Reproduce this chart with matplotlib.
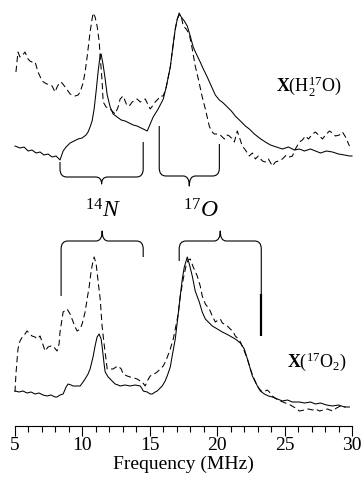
import matplotlib
matplotlib.use("Agg")
import matplotlib.pyplot as plt
from matplotlib.path import Path
from matplotlib.patches import PathPatch
from matplotlib.ticker import MultipleLocator

plt.rcParams['font.family'] = ['Liberation Serif', 'DejaVu Serif']
plt.rcParams['mathtext.fontset'] = 'custom'
plt.rcParams['mathtext.rm'] = 'Liberation Serif'
plt.rcParams['mathtext.it'] = 'Liberation Serif:italic'
plt.rcParams['mathtext.bf'] = 'Liberation Serif:bold'

# ---------------- data (frequency in MHz, intensity in arbitrary units) -------------
top_solid_f = [5.00, 5.37, 5.67, 5.97, 6.26, 6.56, 6.86, 7.15, 7.45, 7.75, 8.05, 8.34, 8.57, 8.79,
               9.09, 9.38, 9.68, 9.98, 10.27, 10.42, 10.57, 10.72, 10.87, 11.02, 11.17, 11.32,
               11.39, 11.54, 11.69, 11.84, 12.06, 12.28, 12.58, 12.88, 13.17, 13.47, 13.77,
               14.06, 14.36, 14.66, 14.81, 15.03, 15.25, 15.62, 16.00, 16.22, 16.52, 16.74,
               16.89, 17.04, 17.18, 17.33, 17.56, 17.78, 18.00, 18.22, 18.45, 18.74, 18.97,
               19.26, 19.56, 19.86, 20.16, 20.45, 20.75, 21.05, 21.34, 21.72, 22.09, 22.38,
               22.76, 23.13, 23.57, 23.95, 24.39, 24.84, 25.28, 25.73, 26.10, 26.47, 26.92,
               27.29, 27.66, 28.11, 28.55, 29.00, 29.44, 29.81, 30.00]
top_solid_y = [280, 278, 279, 275, 276, 273, 274, 271, 272, 269, 270, 266, 275, 279,
               283, 285, 287, 288, 291, 294, 299, 305, 317, 335, 355, 371,
               372, 361, 347, 331, 319, 312, 309, 306, 305, 303, 301,
               300, 298, 296, 295, 302, 309, 317, 327, 339, 359, 382,
               397, 407, 413, 409, 405, 400, 390, 379, 372, 364, 357,
               349, 340, 331, 326, 323, 319, 315, 310, 305, 300, 297,
               292, 288, 284, 281, 279, 277, 279, 276, 277, 275, 277,
               275, 273, 275, 274, 272, 271, 270, 270]

top_dash_f = [5.07, 5.22, 5.37, 5.52, 5.74, 5.97, 6.11, 6.26, 6.49, 6.71, 7.01, 7.23, 7.38,
              7.75, 7.97, 8.12, 8.34, 8.49, 8.72, 9.09, 9.46, 9.68, 9.83, 10.05, 10.20, 10.35,
              10.42, 10.57, 10.72, 10.79, 10.94, 11.09, 11.24, 11.32, 11.46, 11.54, 11.76,
              12.06, 12.28, 12.43, 12.65, 12.80, 13.02, 13.17, 13.32, 13.54, 13.69, 13.92,
              14.06, 14.29, 14.51, 14.66, 14.88, 15.03, 15.25, 15.40, 15.62, 15.77, 16.00,
              16.22, 16.52, 16.74, 16.89, 17.04, 17.18, 17.33, 17.48, 17.70, 17.93, 18.15,
              18.37, 18.60, 18.89, 19.12, 19.41, 19.56, 19.78, 20.16, 20.38, 20.53, 20.75,
              20.90, 21.12, 21.27, 21.49, 21.64, 21.86, 22.09, 22.38, 22.61, 22.83, 23.05,
              23.35, 23.57, 23.80, 24.09, 24.32, 24.54, 24.84, 25.13, 25.36, 25.58, 25.80,
              26.10, 26.32, 26.55, 26.77, 27.07, 27.29, 27.51, 27.81, 28.03, 28.33, 28.55,
              28.77, 29.07, 29.29, 29.52, 29.81]
top_dash_y = [354, 374, 369, 370, 374, 367, 365, 364, 364, 354, 345, 343, 342,
              340, 334, 339, 344, 343, 339, 332, 330, 331, 334, 343, 354, 369,
              377, 394, 407, 413, 409, 400, 385, 370, 345, 324, 319,
              317, 314, 312, 319, 327, 330, 325, 320, 321, 324, 326,
              327, 324, 326, 327, 321, 317, 321, 324, 327, 330, 330,
              339, 359, 382, 397, 407, 411, 410, 400, 397, 392, 377,
              360, 347, 329, 317, 300, 295, 292, 292, 289, 287, 291,
              290, 287, 284, 295, 289, 280, 276, 270, 273, 267, 270,
              265, 264, 267, 260, 264, 265, 267, 271, 269, 270, 277,
              284, 286, 290, 287, 292, 294, 291, 287, 291, 295, 293,
              290, 291, 294, 289, 280]

bot_solid_f = [5.00, 5.30, 5.59, 5.89, 6.19, 6.49, 6.78, 7.08, 7.38, 7.67, 7.97, 8.12, 8.34,
               8.57, 8.79, 8.94, 9.16, 9.31, 9.61, 9.83, 10.05, 10.20, 10.42, 10.57, 10.79,
               10.94, 11.09, 11.24, 11.39, 11.46, 11.61, 11.69, 11.91, 12.06, 12.28, 12.43,
               12.65, 12.80, 13.17, 13.54, 13.92, 14.29, 14.44, 14.51, 14.81, 15.03, 15.18,
               15.40, 15.55, 15.77, 15.92, 16.14, 16.29, 16.52, 16.66, 16.89, 17.04, 17.26,
               17.41, 17.56, 17.78, 17.93, 18.15, 18.37, 18.67, 18.89, 19.12, 19.34, 19.64,
               20.01, 20.38, 20.82, 21.34, 21.72, 22.01, 22.24, 22.46, 22.61, 22.83, 22.98,
               23.20, 23.50, 23.80, 24.09, 24.47, 24.84, 25.21, 25.58, 26.10, 26.47, 26.92,
               27.29, 27.66, 28.11, 28.55, 29.00, 29.44, 29.81]
bot_solid_y = [35, 34, 35, 33, 34, 32, 33, 31, 30, 31, 29, 29, 31,
               32, 39, 42, 41, 40, 40, 40, 44, 47, 52, 57, 69,
               80, 89, 92, 87, 80, 62, 54, 49, 47, 44, 42,
               41, 40, 41, 40, 41, 40, 37, 35, 34, 32, 32,
               34, 35, 38, 40, 45, 50, 59, 70, 87, 104, 130,
               147, 159, 169, 162, 150, 135, 124, 114, 107, 104, 100,
               97, 94, 91, 87, 83, 77, 67, 57, 50, 44, 40,
               35, 32, 30, 29, 27, 25, 26, 24, 24, 23, 24,
               22, 23, 21, 20, 21, 19, 19]

bot_dash_f = [5.00, 5.07, 5.22, 5.37, 5.59, 5.74, 5.89, 6.11, 6.26, 6.49, 6.63, 6.86, 7.01,
              7.23, 7.45, 7.67, 7.82, 8.12, 8.27, 8.34, 8.49, 8.57, 8.86, 9.09, 9.23, 9.46,
              9.61, 9.83, 9.98, 10.20, 10.35, 10.50, 10.65, 10.79, 10.87, 11.02, 11.17,
              11.32, 11.46, 11.61, 11.84, 12.06, 12.28, 12.50, 12.65, 12.88, 13.02, 13.32,
              13.54, 13.84, 14.06, 14.29, 14.44, 14.66, 14.81, 15.03, 15.33, 15.55, 15.77,
              16.00, 16.22, 16.52, 16.74, 16.89, 17.11, 17.26, 17.48, 17.70, 17.85, 18.00,
              18.22, 18.52, 18.74, 18.89, 19.12, 19.41, 19.64, 19.86, 20.08, 20.23, 20.38,
              20.53, 20.75, 20.97, 21.20, 21.34, 21.57, 21.72, 22.01, 22.24, 22.46, 22.68,
              22.91, 23.13, 23.35, 23.57, 23.72, 23.87, 24.09, 24.39, 24.69, 25.06, 25.43,
              25.80, 26.10, 26.47, 26.77, 27.07, 27.29, 27.59, 27.88, 28.18, 28.55, 28.85,
              29.15, 29.52]
bot_dash_y = [34, 52, 77, 85, 90, 92, 95, 92, 90, 89, 87, 90, 84,
              75, 79, 80, 80, 75, 82, 94, 107, 114, 117, 112, 107, 99,
              95, 97, 102, 114, 127, 139, 155, 165, 169, 162, 144,
              127, 100, 82, 57, 57, 57, 59, 60, 57, 52, 50,
              49, 48, 47, 45, 44, 40, 45, 50, 52, 54, 57,
              60, 66, 77, 87, 97, 112, 130, 147, 161, 166, 167,
              159, 150, 140, 130, 122, 117, 110, 104, 106, 107, 103,
              102, 100, 97, 94, 90, 87, 84, 75, 67, 57, 49,
              42, 37, 34, 35, 36, 34, 30, 27, 25, 23, 21,
              18, 15, 16, 17, 16, 17, 15, 16, 17, 15, 18,
              20, 19]

# braces: (left MHz, right MHz, horizontal level, tip level, left end level, right end level)
brace_top_N = (8.34, 14.51, 249, 242, 264, 284)
brace_top_O = (15.70, 20.16, 250, 240, 300, 282)
brace_bot_N = (8.42, 14.51, 185, 195, 130, 169)
brace_bot_O = (17.18, 23.27, 185, 195, 165, 90)
thick_seg = (23.27, 90, 132)

tick_major = [5, 10, 15, 20, 25, 30]

# ---------------- figure -------------------------------------------------------------
fig = plt.figure(figsize=(3.64, 4.85), dpi=100)
ax = fig.add_axes([15 / 364, 58 / 485, 337 / 364, 427 / 485])
ax.set_xlim(5, 30)
ax.set_ylim(0, 427)

lw = 0.75
dash = (0, (6, 3.5))
ax.plot(top_solid_f, top_solid_y, color='black', lw=lw, clip_on=False)
ax.plot(top_dash_f, top_dash_y, color='black', lw=lw, ls=dash, clip_on=False)
ax.plot(bot_solid_f, bot_solid_y, color='black', lw=lw, clip_on=False)
ax.plot(bot_dash_f, bot_dash_y, color='black', lw=lw, ls=dash, clip_on=False)


def brace(ax, spec, rx=0.5, ry=8.0, rt=0.45):
    x0, x1, yh, yt, yl, yr = spec
    xc = 0.5 * (x0 + x1)
    e = 1 if yl > yh else -1
    verts = [(x0, yl), (x0, yh + e * ry), (x0, yh), (x0 + rx, yh),
             (xc - rt, yh), (xc, yh), (xc, yt),
             (xc, yh), (xc + rt, yh),
             (x1 - rx, yh), (x1, yh), (x1, yh + e * ry), (x1, yr)]
    codes = [Path.MOVETO, Path.LINETO, Path.CURVE3, Path.CURVE3,
             Path.LINETO, Path.CURVE3, Path.CURVE3,
             Path.CURVE3, Path.CURVE3,
             Path.LINETO, Path.CURVE3, Path.CURVE3, Path.LINETO]
    ax.add_patch(PathPatch(Path(verts, codes), fill=False, lw=0.8,
                           edgecolor='black', capstyle='butt', joinstyle='round'))


for b in (brace_top_N, brace_top_O, brace_bot_N, brace_bot_O):
    brace(ax, b)
ax.plot([thick_seg[0]] * 2, thick_seg[1:], color='black', lw=1.6, solid_capstyle='butt')

ax.text(11.5, 209, r'$^{\mathit{14}}N$', fontsize=17, ha='center', va='baseline')
ax.text(18.8, 209, r'$^{\mathit{17}}O$', fontsize=17, ha='center', va='baseline')
ax.text(26.8, 335, r'$\mathbf{X}(\mathrm{H}_2^{17}\mathrm{O})$', fontsize=13,
        ha='center', va='baseline')
ax.text(27.36, 60, r'$\mathbf{X}(^{17}\mathrm{O}_2)$', fontsize=13,
        ha='center', va='baseline')

for s in ('top', 'left', 'right'):
    ax.spines[s].set_visible(False)
ax.spines['bottom'].set_linewidth(0.8)
ax.set_yticks([])
ax.set_xticks(tick_major)
ax.xaxis.set_minor_locator(MultipleLocator(1))
ax.tick_params(axis='x', which='major', direction='out', length=7, width=0.8,
               labelsize=14, pad=0.5)
ax.tick_params(axis='x', which='minor', direction='out', length=4, width=0.8)
ax.set_xlabel('Frequency (MHz)', fontsize=14, labelpad=1)
ax.patch.set_alpha(0)

fig.savefig('out.png', dpi=100)
